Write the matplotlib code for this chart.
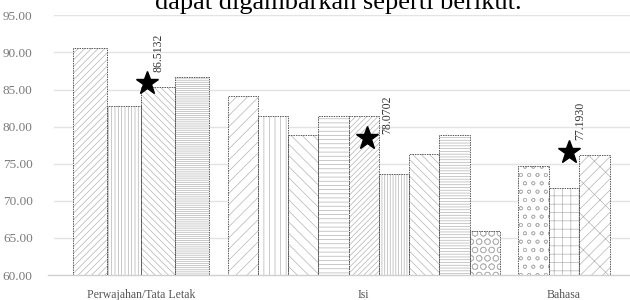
import numpy as np
import matplotlib
matplotlib.use('Agg')
import matplotlib.pyplot as plt

# Data
categories = ['Perwajahan/Tata Letak', 'Isi', 'Bahasa']
perwajahan = [90.55, 82.78, 85.32, 86.65]
isi = [84.10, 81.47, 78.93, 81.47, 81.47, 73.62, 76.30, 78.93, 65.90]
bahasa = [74.65, 71.68, 76.17]
values = [perwajahan, isi, bahasa]

# Average markers (stars) and their labels
star_labels = ['86.5132', '78.0702', '77.1930']
star_y = [85.83, 78.42, 76.62]

# Hatch patterns per bar
hatches = [
    ['/////', '|||||', '\\\\\\\\\\', '--------'],
    ['///', '|||', '\\\\\\', '----', '//////', '||||||', '\\\\\\\\', '------', 'OO'],
    ['oo', '++', '///\\'],
]

# Layout (pixel-like units along x)
group_start = [25, 179.7, 469.7]
bar_width = [34, 30.25, 30.8]
star_dx = [6, 3, 5]
label_off = [(11, 11), (20, 4), (11, 12)]

plt.rcParams['font.family'] = ['Liberation Serif', 'DejaVu Serif']
plt.rcParams['hatch.linewidth'] = 0.5

fig = plt.figure(figsize=(6.3, 3.0), dpi=100)
ax = fig.add_axes([48 / 630, 1 - 275 / 300, 582 / 630, (275 - 15.3) / 300])

centers = []
for g, vals in enumerate(values):
    n = len(vals)
    x = group_start[g] + bar_width[g] * (np.arange(n) + 0.5)
    centers.append(group_start[g] + n * bar_width[g] / 2)
    for i in range(n):
        ax.bar(x[i], vals[i], bar_width[g], color='white', edgecolor='#b4b4b4',
               hatch=hatches[g][i], linewidth=0, zorder=2)
        ax.bar(x[i], vals[i], bar_width[g], fill=False, edgecolor='#5a5a5a',
               linewidth=0.7, linestyle=(0, (1.5, 1)), zorder=3)

# Stars with rotated value labels
for g in range(3):
    sx = centers[g] + star_dx[g]
    ax.plot(sx, star_y[g], marker='*', markersize=17, color='black',
            linestyle='none', zorder=5)
    ax.annotate(star_labels[g], (sx, star_y[g]), xytext=label_off[g],
                textcoords='offset pixels', rotation=90, ha='center',
                va='bottom', fontsize=8.5, color='#333333')

# Grid lines
for yv in np.arange(65, 96, 5):
    ax.axhline(yv, xmin=6 / 582, color='#e3e3e3', linewidth=1, zorder=0)

ax.set_xlim(0, 582)
ax.set_ylim(60, 95)
ax.set_yticks(np.arange(60, 96, 5))
ax.set_yticklabels([f'{v:.2f}' for v in np.arange(60, 96, 5)])
ax.set_xticks(centers)
ax.set_xticklabels(categories)
ax.tick_params(axis='y', length=0, pad=11, labelsize=9.5, labelcolor='#7a7a7a')
ax.tick_params(axis='x', length=0, pad=10, labelsize=8.5, labelcolor='#555555')

for s in ['top', 'right', 'left']:
    ax.spines[s].set_visible(False)
ax.spines['bottom'].set_color('#d0d0d0')
ax.spines['bottom'].set_linewidth(1)

# Cut-off line of body text above the chart (clipped at the top, as in the source)
fig.text(338 / 630, 1 - 9.5 / 300, 'dapat digambarkan seperti berikut.',
         ha='center', va='baseline', fontsize=19, color='black')

fig.savefig('out.png', dpi=100)
